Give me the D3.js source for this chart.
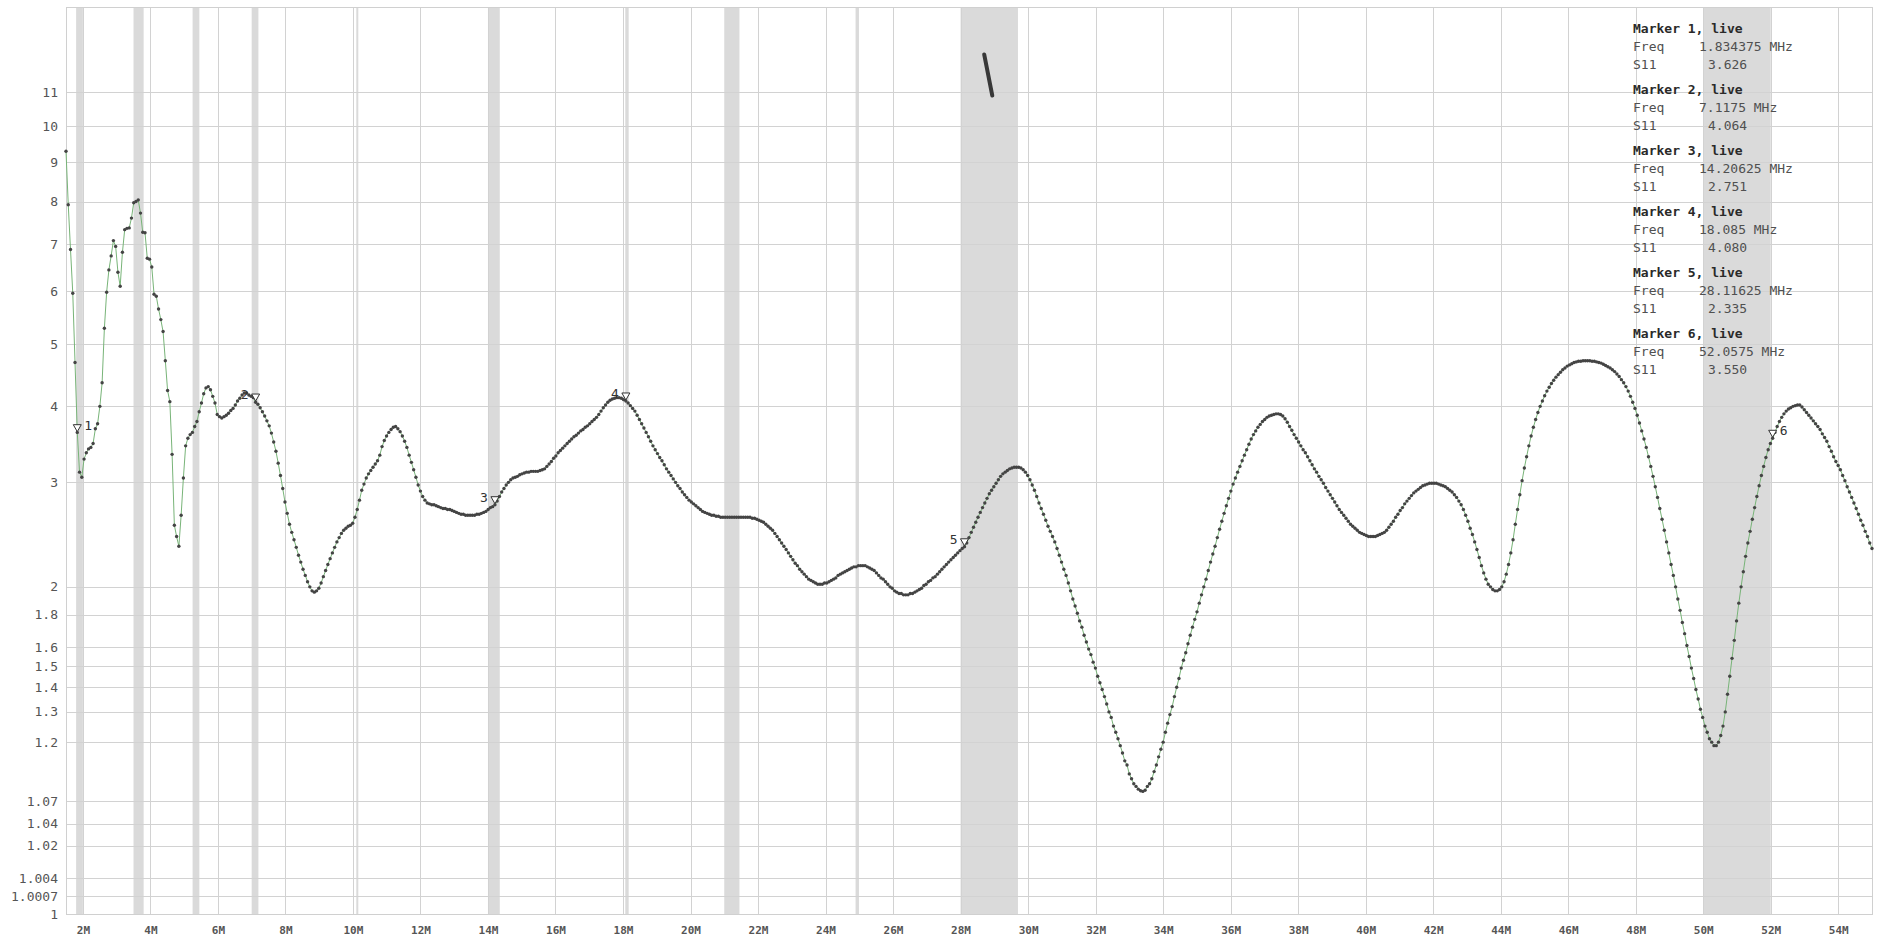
<!DOCTYPE html>
<html>
<head>
<meta charset="utf-8">
<script src="https://cdn.jsdelivr.net/npm/d3@7"></script>
<style>
  html, body { margin: 0; padding: 0; background: #ffffff; }
  svg { display: block; }
</style>
</head>
<body>
<svg id="chart" width="1879" height="940"></svg>
<script>
// Sweep definition: 801 points from 1.5 MHz in 66.875 kHz steps
const sweepStartMHz = 1.5;
const sweepStepMHz = 0.066875;

// Measured VSWR (S11) at each sweep point
const vswr = [
  9.30,7.92,6.88,5.96,4.69,3.63,3.12,3.06,3.28,3.36,3.41,3.43,3.48,3.68,3.75,4.00,4.36,5.29,5.98,6.44,
  6.74,7.08,6.95,6.39,6.10,6.82,7.33,7.36,7.37,7.60,7.97,8.00,8.04,7.72,7.27,7.26,6.69,6.67,6.50,5.94,
  5.90,5.65,5.45,5.23,4.72,4.24,4.07,3.34,2.54,2.43,2.34,2.64,3.05,3.45,3.55,3.60,3.63,3.71,3.78,3.92,
  4.05,4.19,4.28,4.30,4.25,4.15,4.05,3.88,3.85,3.83,3.85,3.87,3.90,3.94,3.97,4.02,4.08,4.12,4.17,4.20,
  4.20,4.17,4.15,4.13,4.06,4.03,3.98,3.92,3.86,3.79,3.72,3.62,3.50,3.38,3.23,3.08,2.93,2.78,2.66,2.55,
  2.47,2.40,2.33,2.26,2.20,2.14,2.09,2.04,2.00,1.97,1.96,1.97,1.99,2.03,2.08,2.13,2.18,2.23,2.28,2.33,
  2.38,2.42,2.46,2.49,2.51,2.53,2.54,2.56,2.62,2.70,2.80,2.91,2.98,3.05,3.10,3.14,3.18,3.22,3.26,3.33,
  3.44,3.52,3.58,3.63,3.67,3.70,3.71,3.68,3.64,3.58,3.51,3.43,3.33,3.24,3.15,3.06,2.97,2.90,2.84,2.80,
  2.77,2.76,2.75,2.75,2.74,2.73,2.72,2.71,2.71,2.70,2.70,2.69,2.68,2.67,2.66,2.65,2.65,2.64,2.64,2.64,
  2.64,2.64,2.65,2.65,2.66,2.67,2.68,2.70,2.72,2.73,2.75,2.79,2.84,2.89,2.93,2.97,3.00,3.03,3.05,3.06,
  3.07,3.09,3.10,3.11,3.12,3.12,3.13,3.13,3.13,3.13,3.14,3.15,3.16,3.19,3.22,3.25,3.29,3.32,3.36,3.39,
  3.42,3.45,3.48,3.51,3.54,3.57,3.59,3.62,3.65,3.67,3.70,3.72,3.75,3.78,3.81,3.84,3.88,3.93,3.98,4.02,
  4.06,4.09,4.11,4.12,4.13,4.13,4.12,4.10,4.08,4.05,4.01,3.97,3.93,3.87,3.81,3.75,3.69,3.63,3.57,3.51,
  3.45,3.40,3.35,3.30,3.26,3.21,3.16,3.12,3.08,3.04,3.00,2.96,2.93,2.89,2.86,2.83,2.80,2.78,2.76,2.74,
  2.72,2.70,2.68,2.67,2.66,2.65,2.64,2.64,2.63,2.63,2.62,2.62,2.62,2.62,2.62,2.62,2.62,2.62,2.62,2.62,
  2.62,2.62,2.62,2.62,2.61,2.61,2.60,2.59,2.58,2.57,2.55,2.53,2.51,2.49,2.46,2.43,2.40,2.37,2.34,2.31,
  2.28,2.25,2.22,2.19,2.17,2.14,2.12,2.10,2.08,2.06,2.05,2.04,2.03,2.02,2.02,2.02,2.03,2.03,2.04,2.05,
  2.06,2.07,2.09,2.10,2.11,2.12,2.13,2.14,2.15,2.16,2.16,2.17,2.17,2.17,2.17,2.16,2.15,2.14,2.13,2.11,
  2.09,2.07,2.06,2.04,2.02,2.00,1.99,1.97,1.96,1.95,1.95,1.94,1.94,1.94,1.95,1.95,1.96,1.97,1.98,1.99,
  2.01,2.02,2.04,2.05,2.07,2.08,2.10,2.12,2.14,2.16,2.18,2.20,2.22,2.24,2.26,2.28,2.30,2.32,2.335,2.37,
  2.42,2.47,2.52,2.57,2.62,2.67,2.72,2.77,2.82,2.87,2.91,2.95,2.99,3.03,3.07,3.10,3.12,3.14,3.16,3.17,
  3.18,3.18,3.18,3.17,3.15,3.12,3.08,3.03,2.97,2.91,2.84,2.77,2.71,2.65,2.59,2.53,2.48,2.43,2.38,2.32,
  2.26,2.20,2.14,2.09,2.03,1.97,1.91,1.86,1.81,1.76,1.72,1.67,1.63,1.59,1.56,1.52,1.49,1.45,1.42,1.39,
  1.36,1.33,1.30,1.28,1.25,1.23,1.21,1.19,1.17,1.15,1.14,1.12,1.11,1.10,1.095,1.09,1.087,1.086,1.088,1.095,
  1.10,1.11,1.125,1.14,1.16,1.18,1.20,1.23,1.26,1.29,1.32,1.36,1.40,1.44,1.49,1.53,1.57,1.62,1.67,1.72,
  1.77,1.82,1.88,1.94,2.00,2.06,2.13,2.20,2.27,2.34,2.42,2.50,2.58,2.66,2.74,2.82,2.90,2.98,3.05,3.12,
  3.19,3.26,3.33,3.40,3.47,3.54,3.60,3.65,3.70,3.74,3.78,3.81,3.84,3.86,3.87,3.88,3.89,3.89,3.88,3.86,
  3.82,3.77,3.71,3.66,3.60,3.55,3.50,3.45,3.40,3.36,3.31,3.26,3.21,3.16,3.12,3.07,3.03,2.99,2.94,2.90,
  2.86,2.82,2.78,2.74,2.70,2.67,2.64,2.61,2.58,2.55,2.53,2.51,2.49,2.47,2.46,2.45,2.44,2.43,2.43,2.43,
  2.43,2.44,2.45,2.46,2.47,2.49,2.52,2.55,2.58,2.62,2.65,2.69,2.72,2.76,2.79,2.82,2.85,2.88,2.90,2.92,
  2.94,2.96,2.97,2.98,2.99,2.99,2.99,2.99,2.98,2.97,2.96,2.95,2.93,2.91,2.89,2.86,2.83,2.79,2.75,2.70,
  2.64,2.58,2.51,2.45,2.38,2.31,2.24,2.17,2.11,2.06,2.02,2.00,1.98,1.97,1.97,1.98,2.00,2.04,2.10,2.18,
  2.28,2.40,2.55,2.70,2.86,3.02,3.17,3.31,3.45,3.58,3.70,3.81,3.91,4.00,4.08,4.16,4.23,4.29,4.35,4.40,
  4.45,4.49,4.53,4.57,4.60,4.63,4.65,4.67,4.69,4.70,4.71,4.71,4.72,4.72,4.72,4.72,4.71,4.71,4.70,4.69,
  4.68,4.66,4.64,4.62,4.60,4.57,4.54,4.50,4.46,4.41,4.36,4.30,4.23,4.15,4.06,3.97,3.87,3.76,3.65,3.54,
  3.43,3.31,3.19,3.07,2.95,2.83,2.71,2.60,2.49,2.38,2.28,2.18,2.09,2.00,1.91,1.83,1.75,1.68,1.61,1.55,
  1.49,1.44,1.39,1.35,1.31,1.28,1.25,1.23,1.21,1.20,1.19,1.19,1.20,1.22,1.25,1.30,1.37,1.45,1.54,1.64,
  1.76,1.88,2.00,2.12,2.25,2.37,2.48,2.60,2.72,2.84,2.96,3.08,3.19,3.30,3.40,3.48,3.55,3.63,3.71,3.78,
  3.84,3.89,3.93,3.96,3.98,4.00,4.01,4.02,4.02,3.99,3.95,3.91,3.87,3.83,3.79,3.75,3.71,3.67,3.61,3.56,
  3.51,3.44,3.38,3.31,3.25,3.20,3.15,3.08,3.02,2.95,2.89,2.83,2.77,2.71,2.65,2.59,2.54,2.48,2.43,2.37,2.32
];

// Axis ticks
const yTickValues = [1, 1.0007, 1.004, 1.02, 1.04, 1.07, 1.2, 1.3, 1.4, 1.5, 1.6, 1.8, 2, 3, 4, 5, 6, 7, 8, 9, 10, 11];
const xTickValues = [2, 4, 6, 8, 10, 12, 14, 16, 18, 20, 22, 24, 26, 28, 30, 32, 34, 36, 38, 40, 42, 44, 46, 48, 50, 52, 54];

// Amateur radio bands shaded on the chart (MHz)
const bandStarts = [1.8, 3.5, 5.25, 7.0, 10.1, 14.0, 18.068, 21.0, 24.89, 28.0, 50.0];
const bandEnds   = [2.0, 3.8, 5.45, 7.2, 10.15, 14.35, 18.168, 21.45, 24.99, 29.7, 52.0];

// Markers
const markerFreqs = [1.834375, 7.1175, 14.20625, 18.085, 28.11625, 52.0575];
const markerValues = [3.626, 4.064, 2.751, 4.080, 2.335, 3.550];
const markerFreqLabels = ["1.834375", "7.1175", "14.20625", "18.085", "28.11625", "52.0575"];
const markerValueLabels = ["3.626", "4.064", "2.751", "4.080", "2.335", "3.550"];

// Short second-trace fragment near the top of the 10 m band
const fragmentFreqs = [28.70, 28.94];
const fragmentValues = [12.19, 10.90];

// ---- layout ----
const plot = { left: 66, right: 1872, top: 7, bottom: 914 };
const monoFont = "'DejaVu Sans Mono', 'Liberation Mono', monospace";
const markerLabelSide = [1, -1, -1, -1, -1, 1];

const svg = d3.select("#chart");

const x = d3.scaleLinear()
  .domain([sweepStartMHz, sweepStartMHz + sweepStepMHz * (vswr.length - 1)])
  .range([plot.left, plot.right]);

// VSWR axis: power scale on (VSWR - 1)
const yPow = d3.scalePow().exponent(0.4).domain([0, 12.8]).range([plot.bottom, plot.top]);
const y = v => yPow(v - 1);

const points = vswr.map((v, i) => ({ f: sweepStartMHz + i * sweepStepMHz, v }));

// Band shading
svg.append("g").selectAll("rect")
  .data(bandStarts.map((s, i) => [s, bandEnds[i]]))
  .join("rect")
  .attr("x", d => x(d[0]))
  .attr("y", plot.top)
  .attr("width", d => Math.max(2, x(d[1]) - x(d[0])))
  .attr("height", plot.bottom - plot.top)
  .attr("fill", "#dadada");

// Grid
const grid = svg.append("g").attr("stroke", "#d2d2d2").attr("stroke-width", 1).attr("shape-rendering", "crispEdges");
grid.selectAll("line.h")
  .data(yTickValues)
  .join("line")
  .attr("class", "h")
  .attr("x1", plot.left).attr("x2", plot.right)
  .attr("y1", d => Math.round(y(d)) + 0.5).attr("y2", d => Math.round(y(d)) + 0.5);
grid.selectAll("line.v")
  .data(xTickValues)
  .join("line")
  .attr("class", "v")
  .attr("y1", plot.top).attr("y2", plot.bottom)
  .attr("x1", d => Math.round(x(d)) + 0.5).attr("x2", d => Math.round(x(d)) + 0.5);

// Frame
svg.append("rect")
  .attr("x", plot.left + 0.5).attr("y", plot.top + 0.5)
  .attr("width", plot.right - plot.left).attr("height", plot.bottom - plot.top)
  .attr("fill", "none").attr("stroke", "#d0d0d0").attr("shape-rendering", "crispEdges");

// Y axis labels
svg.append("g").selectAll("text")
  .data(yTickValues)
  .join("text")
  .attr("x", 58)
  .attr("y", d => y(d))
  .attr("dy", "0.35em")
  .attr("text-anchor", "end")
  .attr("font-family", monoFont)
  .attr("font-size", 13)
  .attr("fill", "#555")
  .text(d => String(d));

// X axis labels
svg.append("g")
  .attr("transform", `translate(0,${plot.bottom})`)
  .call(d3.axisBottom(x).tickValues(xTickValues).tickSize(0).tickPadding(12).tickFormat(d => d + "M"))
  .call(g => g.select(".domain").remove())
  .call(g => g.selectAll("text")
    .attr("font-family", monoFont)
    .attr("font-size", 11)
    .attr("font-weight", "bold")
    .attr("fill", "#555"));

// Trace: connecting line and sample dots
svg.append("path")
  .datum(points)
  .attr("fill", "none")
  .attr("stroke", "#78b478")
  .attr("stroke-width", 1)
  .attr("d", d3.line().x(d => x(d.f)).y(d => y(d.v)));

svg.append("g").attr("fill", "#444")
  .selectAll("circle")
  .data(points)
  .join("circle")
  .attr("cx", d => x(d.f))
  .attr("cy", d => y(d.v))
  .attr("r", 1.7);

// Fragment of second trace
svg.append("path")
  .datum(fragmentFreqs.map((f, i) => ({ f, v: fragmentValues[i] })))
  .attr("fill", "none")
  .attr("stroke", "#383838")
  .attr("stroke-width", 4)
  .attr("stroke-linecap", "round")
  .attr("d", d3.line().x(d => x(d.f)).y(d => y(d.v)));

// Markers on the trace
const markers = markerFreqs.map((f, i) => ({ f, v: markerValues[i], n: i + 1, side: markerLabelSide[i] }));
const mg = svg.append("g").selectAll("g").data(markers).join("g")
  .attr("transform", d => `translate(${x(d.f)},${y(d.v)})`);
mg.append("path")
  .attr("d", "M-4,-8 L4,-8 L0,-1 Z")
  .attr("fill", "#ffffff")
  .attr("stroke", "#333")
  .attr("stroke-width", 1);
mg.append("text")
  .attr("x", d => d.side > 0 ? 7 : -7)
  .attr("y", -3)
  .attr("text-anchor", d => d.side > 0 ? "start" : "end")
  .attr("font-family", monoFont)
  .attr("font-size", 13)
  .attr("fill", "#333")
  .text(d => d.n);

// Marker readout
const readout = svg.append("g").attr("font-family", monoFont).attr("font-size", 13);
markers.forEach((m, i) => {
  const top = 33 + i * 61;
  readout.append("text").attr("x", 1633).attr("y", top)
    .attr("font-weight", "bold").attr("fill", "#2a2a2a")
    .text(`Marker ${m.n}, live`);
  readout.append("text").attr("x", 1633).attr("y", top + 18).attr("fill", "#505050").text("Freq");
  readout.append("text").attr("x", 1699).attr("y", top + 18).attr("fill", "#505050").text(`${markerFreqLabels[i]} MHz`);
  readout.append("text").attr("x", 1633).attr("y", top + 36).attr("fill", "#505050").text("S11");
  readout.append("text").attr("x", 1708).attr("y", top + 36).attr("fill", "#505050").text(markerValueLabels[i]);
});
</script>
</body>
</html>
